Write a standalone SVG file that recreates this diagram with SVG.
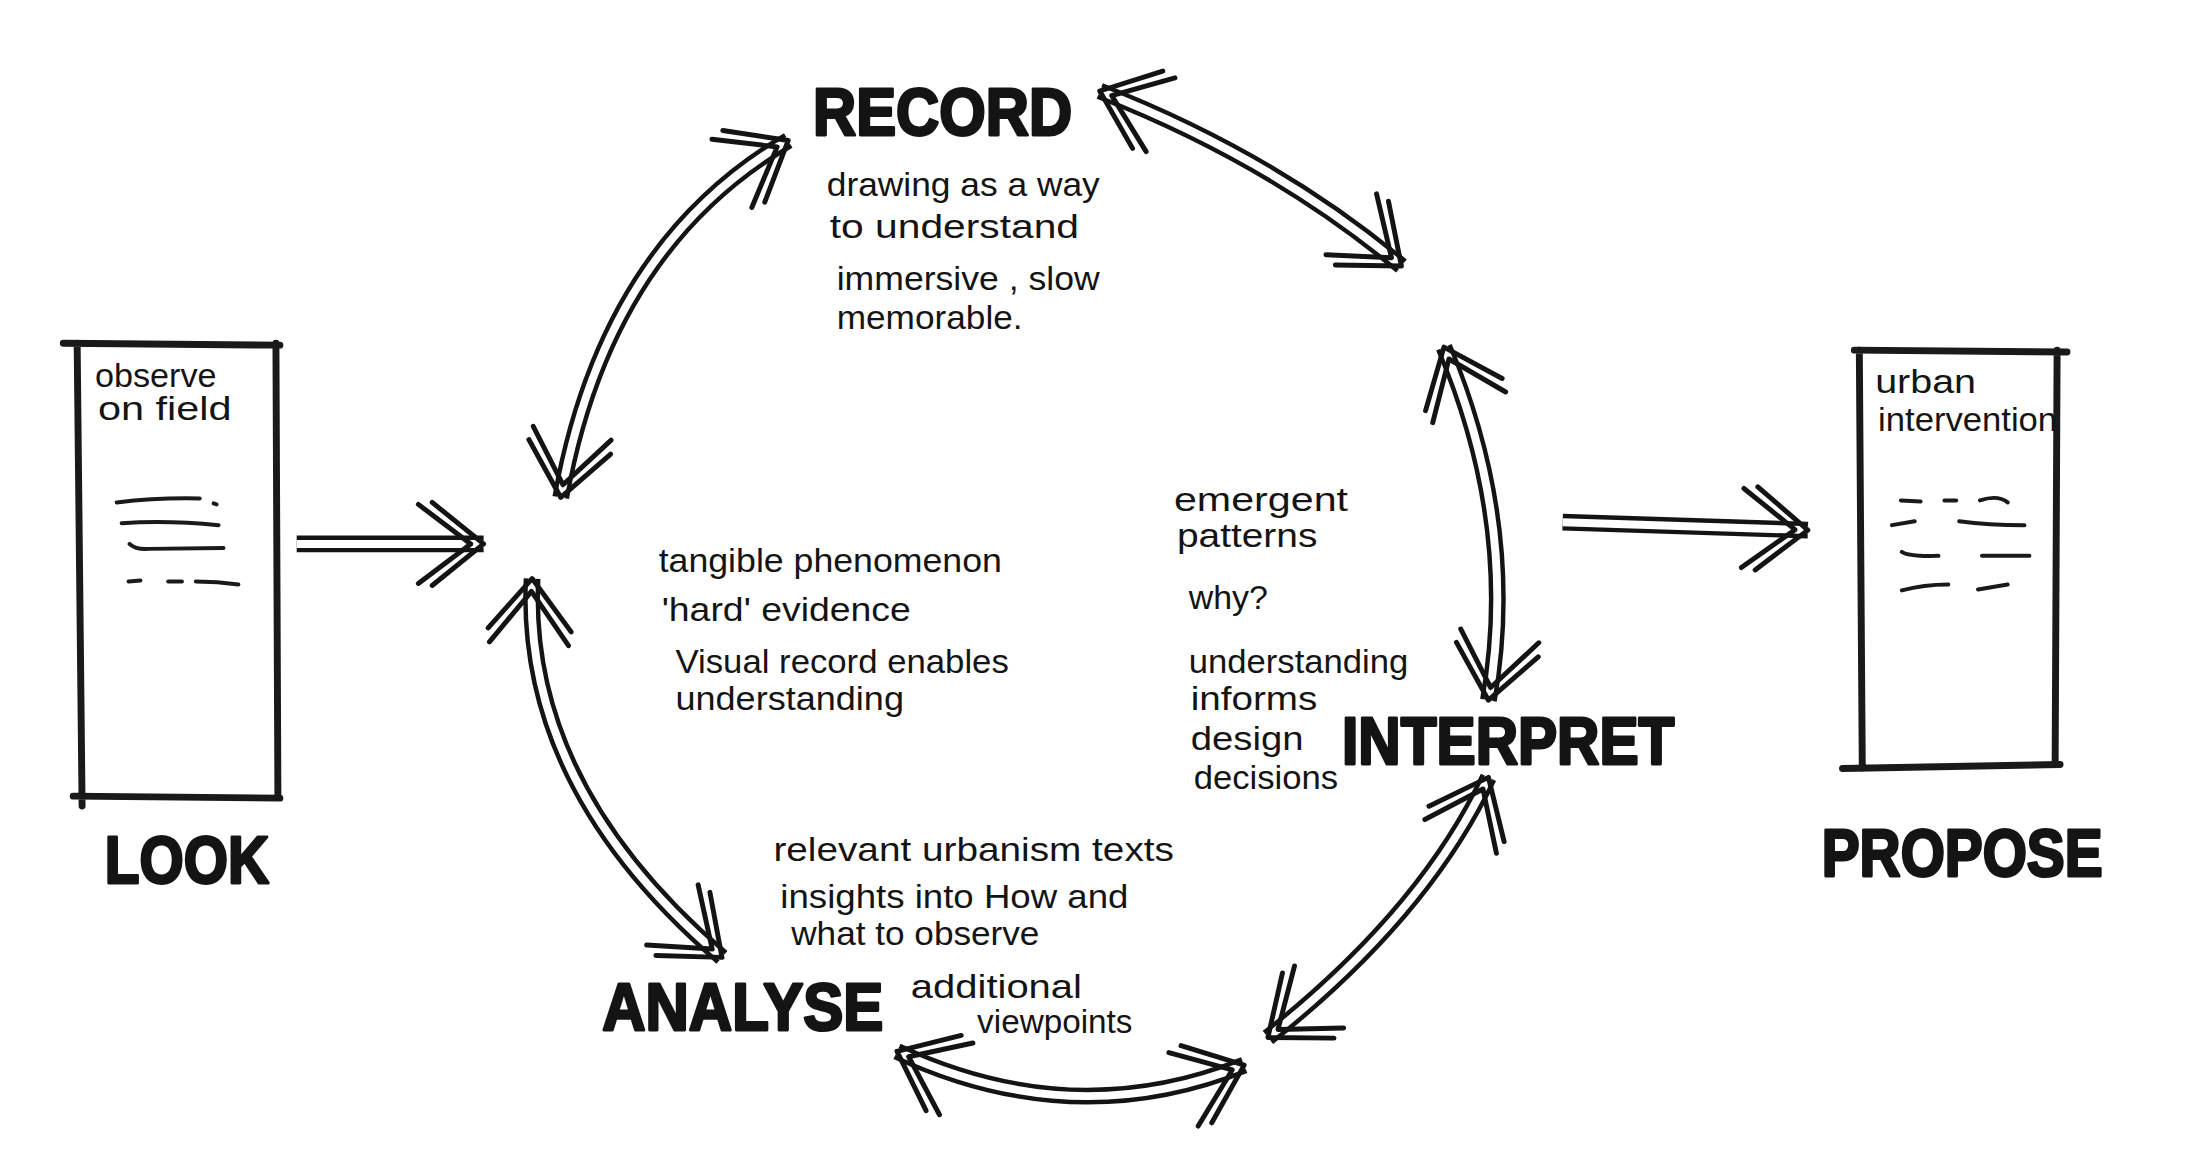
<svg xmlns="http://www.w3.org/2000/svg" xmlns:xlink="http://www.w3.org/1999/xlink" width="2197" height="1167" viewBox="0 0 2197 1167">
<style>
.hand{font-family:"Liberation Sans","DejaVu Sans",sans-serif;font-size:33px;fill:#141414}
.label{font-family:"Liberation Sans","DejaVu Sans",sans-serif;font-weight:bold;font-size:68px;fill:#141414;stroke:#141414;stroke-width:3;stroke-linejoin:round}
.box{fill:none;stroke:#1a1a1a;stroke-width:7;stroke-linecap:round}
.scrib{fill:none;stroke:#1a1a1a;stroke-width:4;stroke-linecap:round}
.outer{fill:none;stroke:#141414;stroke-width:17}
.inner{fill:none;stroke:#fff;stroke-width:8}
.heads{fill:none;stroke:none}
</style>
<defs>
<marker id="head" markerUnits="userSpaceOnUse" orient="auto-start-reverse" viewBox="-80 -60 90 120" refX="0" refY="0" markerWidth="90" markerHeight="120" overflow="visible">
<path d="M-52,-42 L0,0 L-52,42 M-66,-40 L-13,0 L-66,40" fill="none" stroke="#141414" stroke-width="5" stroke-linecap="round" stroke-linejoin="round"/>
</marker>
<path id="c-look" d="M300,550 L489,550"/>
<path id="c-rec-left" d="M567,503 Q612,250 797,142"/>
<path id="c-rec-right" d="M1112,92 Q1286,160 1417,269"/>
<path id="c-right" d="M1460,351 Q1536,532 1505,708"/>
<path id="c-int-bot" d="M1505,786 Q1440,924 1282,1049"/>
<path id="c-bottom" d="M907,1063 Q1085,1146 1258,1077"/>
<path id="c-left-bot" d="M538,585 Q528,795 730,968"/>
<path id="c-propose" d="M1580,528 L1828,536"/>
</defs>
<rect width="2197" height="1167" fill="#fff"/>
<g transform="scale(0.989)">
<g id="connectors">
<g id="arrow-look"><use xlink:href="#c-look" class="outer"/><use xlink:href="#c-look" class="inner"/><use xlink:href="#c-look" class="heads" marker-end="url(#head)"/></g>
<g id="arrow-record-left"><use xlink:href="#c-rec-left" class="outer"/><use xlink:href="#c-rec-left" class="inner"/><use xlink:href="#c-rec-left" class="heads" marker-start="url(#head)" marker-end="url(#head)"/></g>
<g id="arrow-record-right"><use xlink:href="#c-rec-right" class="outer"/><use xlink:href="#c-rec-right" class="inner"/><use xlink:href="#c-rec-right" class="heads" marker-start="url(#head)" marker-end="url(#head)"/></g>
<g id="arrow-right"><use xlink:href="#c-right" class="outer"/><use xlink:href="#c-right" class="inner"/><use xlink:href="#c-right" class="heads" marker-start="url(#head)" marker-end="url(#head)"/></g>
<g id="arrow-interpret-bottom"><use xlink:href="#c-int-bot" class="outer"/><use xlink:href="#c-int-bot" class="inner"/><use xlink:href="#c-int-bot" class="heads" marker-start="url(#head)" marker-end="url(#head)"/></g>
<g id="arrow-bottom"><use xlink:href="#c-bottom" class="outer"/><use xlink:href="#c-bottom" class="inner"/><use xlink:href="#c-bottom" class="heads" marker-start="url(#head)" marker-end="url(#head)"/></g>
<g id="arrow-left-bottom"><use xlink:href="#c-left-bot" class="outer"/><use xlink:href="#c-left-bot" class="inner"/><use xlink:href="#c-left-bot" class="heads" marker-start="url(#head)" marker-end="url(#head)"/></g>
<g id="arrow-propose"><use xlink:href="#c-propose" class="outer"/><use xlink:href="#c-propose" class="inner"/><use xlink:href="#c-propose" class="heads" marker-end="url(#head)"/></g>
</g>

<g id="look">
<path class="box" d="M64,347 L283,349 M78,347 L83,815 M74,805 L283,807 M279,347 L281,805"/>
<text class="hand" x="96" y="391" textLength="123" lengthAdjust="spacingAndGlyphs">observe</text>
<text class="hand" x="99" y="425" textLength="135" lengthAdjust="spacingAndGlyphs">on field</text>
<path class="scrib" d="M118,508 Q160,503 202,504 M216,509 L219,510 M123,529 Q170,526 221,531 M131,550 Q138,556 150,555 L226,554 M130,588 L142,587 M170,588 L184,588 M198,588 Q220,588 241,591"/>
<text class="label" x="106" y="893" textLength="166" lengthAdjust="spacingAndGlyphs">LOOK</text>
</g>

<g id="record">
<text class="label" x="822" y="137" textLength="262" lengthAdjust="spacingAndGlyphs">RECORD</text>
<text class="hand" x="836" y="198" textLength="276" lengthAdjust="spacingAndGlyphs">drawing as a way</text>
<text class="hand" x="839" y="241" textLength="252" lengthAdjust="spacingAndGlyphs">to understand</text>
<text class="hand" x="846" y="293" textLength="266" lengthAdjust="spacingAndGlyphs">immersive , slow</text>
<text class="hand" x="846" y="333" textLength="188" lengthAdjust="spacingAndGlyphs">memorable.</text>
</g>

<g id="center-notes">
<text class="hand" x="666" y="578" textLength="347" lengthAdjust="spacingAndGlyphs">tangible phenomenon</text>
<text class="hand" x="669" y="628" textLength="252" lengthAdjust="spacingAndGlyphs">'hard' evidence</text>
<text class="hand" x="683" y="680" textLength="337" lengthAdjust="spacingAndGlyphs">Visual record enables</text>
<text class="hand" x="683" y="718" textLength="231" lengthAdjust="spacingAndGlyphs">understanding</text>
</g>

<g id="interpret">
<text class="hand" x="1187" y="517" textLength="176" lengthAdjust="spacingAndGlyphs">emergent</text>
<text class="hand" x="1190" y="553" textLength="142" lengthAdjust="spacingAndGlyphs">patterns</text>
<text class="hand" x="1202" y="616" textLength="80" lengthAdjust="spacingAndGlyphs">why?</text>
<text class="hand" x="1202" y="680" textLength="222" lengthAdjust="spacingAndGlyphs">understanding</text>
<text class="hand" x="1204" y="718" textLength="128" lengthAdjust="spacingAndGlyphs">informs</text>
<text class="hand" x="1204" y="758" textLength="114" lengthAdjust="spacingAndGlyphs">design</text>
<text class="hand" x="1207" y="798" textLength="146" lengthAdjust="spacingAndGlyphs">decisions</text>
<text class="label" x="1357" y="772" textLength="336" lengthAdjust="spacingAndGlyphs">INTERPRET</text>
</g>

<g id="analyse">
<text class="hand" x="782" y="871" textLength="405" lengthAdjust="spacingAndGlyphs">relevant urbanism texts</text>
<text class="hand" x="789" y="918" textLength="352" lengthAdjust="spacingAndGlyphs">insights into How and</text>
<text class="hand" x="800" y="956" textLength="251" lengthAdjust="spacingAndGlyphs">what to observe</text>
<text class="hand" x="921" y="1009" textLength="173" lengthAdjust="spacingAndGlyphs">additional</text>
<text class="hand" x="988" y="1044" textLength="157" lengthAdjust="spacingAndGlyphs">viewpoints</text>
<text class="label" x="609" y="1041" textLength="284" lengthAdjust="spacingAndGlyphs">ANALYSE</text>
</g>

<g id="propose">
<path class="box" d="M1875,354 L2090,356 M1880,354 L1883,777 M1863,777 L2083,773 M2080,354 L2078,772"/>
<text class="hand" x="1896" y="397" textLength="102" lengthAdjust="spacingAndGlyphs">urban</text>
<text class="hand" x="1899" y="436" textLength="181" lengthAdjust="spacingAndGlyphs">intervention</text>
<path class="scrib" d="M1922,506 L1942,507 M1966,506 L1978,506 M2002,506 Q2020,500 2030,508 M1913,531 L1936,527 M1981,527 Q2010,531 2047,531 M1923,558 Q1930,563 1960,562 M2004,562 L2052,562 M1923,597 Q1945,591 1970,591 M2000,596 L2030,591"/>
<text class="label" x="1842" y="886" textLength="284" lengthAdjust="spacingAndGlyphs">PROPOSE</text>
</g>
</g>
</svg>
